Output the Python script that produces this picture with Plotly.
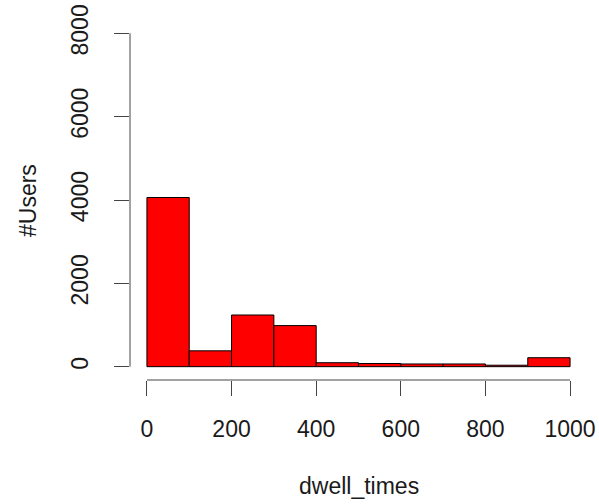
import plotly.graph_objects as go

bin_edges = [0, 100, 200, 300, 400, 500, 600, 700, 800, 900, 1000]
counts = [4060, 380, 1240, 985, 95, 75, 65, 65, 35, 215]
x_ticks = [0, 200, 400, 600, 800, 1000]
y_ticks = [0, 2000, 4000, 6000, 8000]
x_title = "dwell_times"
y_title = "#Users"

centers = [(a + b) / 2 for a, b in zip(bin_edges[:-1], bin_edges[1:])]
widths = [b - a for a, b in zip(bin_edges[:-1], bin_edges[1:])]

FONT = "Liberation Sans, Arial, Helvetica, sans-serif"
AX = "#444444"
FS = 23

fig = go.Figure(go.Bar(
    x=centers, y=counts, width=widths,
    marker=dict(color="#ff0000", line=dict(color="#000000", width=1)),
    hoverinfo="x+y",
))

fig.update_layout(
    width=599, height=504,
    margin=dict(l=130, r=12, t=20, b=124),
    paper_bgcolor="white", plot_bgcolor="white",
    showlegend=False,
    font=dict(family=FONT, size=FS, color="#1a1a1a"),
    xaxis=dict(range=[-40, 1040], tickvals=x_ticks, ticks="outside", ticklen=15,
               tickcolor=AX, tickwidth=1, showgrid=False, zeroline=False, showline=False,
               ticklabelstandoff=13, tickfont=dict(size=FS), automargin=False),
    yaxis=dict(range=[-320, 8320], tickvals=y_ticks, ticks="outside", ticklen=15,
               tickcolor=AX, tickwidth=1, showgrid=False, zeroline=False, showline=False,
               tickangle=-90, ticklabelstandoff=17, tickfont=dict(size=FS), automargin=False),
    shapes=[
        dict(type="line", xref="paper", yref="y", x0=0, x1=0, y0=y_ticks[0], y1=y_ticks[-1],
             line=dict(color=AX, width=1)),
        dict(type="line", xref="x", yref="paper", x0=x_ticks[0], x1=x_ticks[-1], y0=0, y1=0,
             line=dict(color=AX, width=1)),
    ],
    annotations=[
        dict(text=x_title, xref="paper", yref="paper", x=0.5, y=-0.294,
             xanchor="center", yanchor="middle", showarrow=False, font=dict(size=FS)),
        dict(text=y_title, xref="paper", yref="paper", x=-0.2232, y=0.5, textangle=-90,
             xanchor="center", yanchor="middle", showarrow=False, font=dict(size=FS)),
    ],
)

fig.write_html("out.html", config={"displayModeBar": False},
               post_script="document.body.style.margin='0';document.body.style.overflow='hidden';")
